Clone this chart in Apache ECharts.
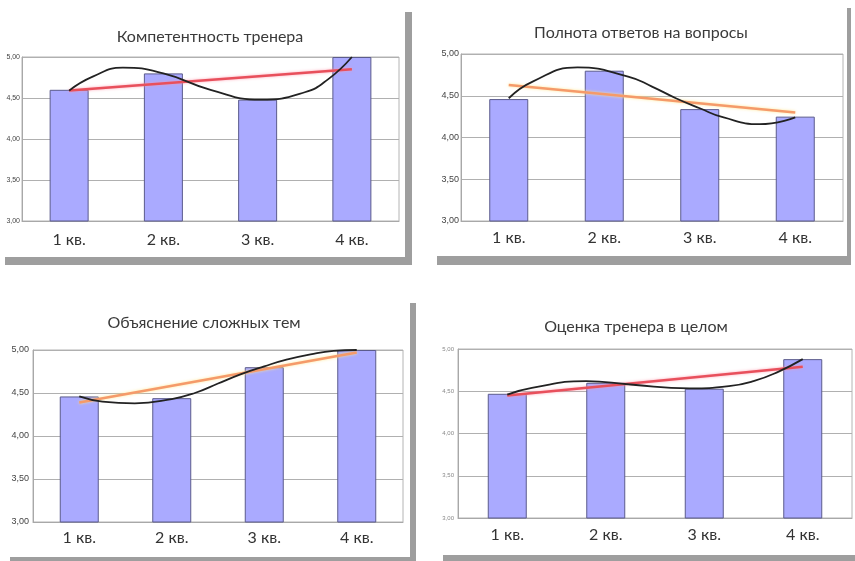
<!DOCTYPE html>
<html>
<head>
<meta charset="utf-8">
<script src="https://cdn.jsdelivr.net/npm/echarts@6/dist/echarts.min.js"></script>
<style>html,body{margin:0;padding:0;background:#fff;}#c{width:855px;height:561px;}</style>
</head>
<body>
<div id="c"></div>
<script>
var categories = ['1 кв.', '2 кв.', '3 кв.', '4 кв.'];
var titles = ['Компетентность тренера', 'Полнота ответов на вопросы', 'Объяснение сложных тем', 'Оценка тренера в целом'];
var bars1 = [4.60, 4.80, 4.48, 5.00];
var bars2 = [4.46, 4.80, 4.34, 4.25];
var bars3 = [4.46, 4.44, 4.80, 5.00];
var bars4 = [4.47, 4.60, 4.53, 4.88];
// black curve (x in category units, 1 = "1 кв.")
var curve1X = [1, 1.25, 1.57, 2, 2.5, 3.03, 3.5, 3.75, 4];
var curve1 = [4.59, 4.76, 4.87, 4.80, 4.60, 4.48, 4.57, 4.73, 5.00];
var curve2X = [1, 1.25, 1.72, 2.25, 2.5, 2.75, 3, 3.25, 3.63, 4];
var curve2 = [4.47, 4.67, 4.84, 4.73, 4.61, 4.47, 4.35, 4.24, 4.16, 4.24];
var curve3X = [1, 1.25, 1.6, 2, 2.25, 2.5, 2.75, 3, 3.25, 3.5, 3.75, 4];
var curve3 = [4.46, 4.40, 4.38, 4.43, 4.50, 4.61, 4.72, 4.81, 4.89, 4.95, 4.99, 5.00];
var curve4X = [1, 1.25, 1.8, 2.25, 2.85, 3.25, 3.5, 3.75, 4];
var curve4 = [4.46, 4.54, 4.62, 4.58, 4.535, 4.56, 4.62, 4.73, 4.88];
// straight trend line
var trendX = [1, 4];
var trend1 = [4.59, 4.85];
var trend2 = [4.63, 4.30];
var trend3 = [4.39, 4.97];
var trend4 = [4.45, 4.79];

var bars = [bars1, bars2, bars3, bars4];
var curvesX = [curve1X, curve2X, curve3X, curve4X];
var curves = [curve1, curve2, curve3, curve4];
var trends = [trend1, trend2, trend3, trend4];

var panels = [
  {grid:{left:22, top:57, width:377, height:164}, title:{x:205, y:32}, ylab:{size:7, color:'#444', margin:2}, xmargin:11, trendColor:'#e8505c', halo:'rgba(255,150,170,0.8)'},
  {grid:{left:461, top:54, width:382, height:167}, title:{x:636, y:28}, ylab:{size:9, color:'#444', margin:2}, xmargin:9, trendColor:'#f59a6a', halo:'rgba(255,230,140,0.9)'},
  {grid:{left:33, top:350, width:370, height:172}, title:{x:199, y:318}, ylab:{size:9, color:'#444', margin:4}, xmargin:8, trendColor:'#f59a6a', halo:'rgba(255,230,140,0.9)'},
  {grid:{left:458, top:349, width:394, height:169}, title:{x:631, y:322}, ylab:{size:6, color:'#888', margin:4}, xmargin:9, trendColor:'#e8505c', halo:'rgba(255,150,170,0.8)'}
];

function pairs(xs, ys) { return xs.map(function (x, i) { return [x, ys[i]]; }); }

var grid = [], xAxis = [], yAxis = [], series = [], title = [];
panels.forEach(function (p, i) {
  grid.push(Object.assign({show:true, borderColor:'#b4b4b4', borderWidth:1, backgroundColor:'#fff'}, p.grid));
  title.push({text: titles[i], left: p.title.x, top: p.title.y, textAlign:'center', textVerticalAlign:'middle',
    textStyle:{fontFamily:'Lato', fontSize:16, fontWeight:'normal', color:'#3a3a3a'}});
  xAxis.push({type:'category', gridIndex:i, data:categories, boundaryGap:true,
    axisLine:{show:true, lineStyle:{color:'#a8a8a8'}}, axisTick:{show:false},
    axisLabel:{fontFamily:'Lato', fontSize:16, color:'#333', margin:p.xmargin}});
  xAxis.push({type:'value', gridIndex:i, min:0.5, max:4.5, show:false});
  yAxis.push({type:'value', gridIndex:i, min:3, max:5, interval:0.5,
    axisLine:{show:true, lineStyle:{color:'#a8a8a8'}}, axisTick:{show:false},
    splitLine:{show:true, lineStyle:{color:'#b0b0b0', width:1}},
    axisLabel:{fontFamily:'Liberation Sans', fontSize:p.ylab.size, color:p.ylab.color, margin:p.ylab.margin,
      formatter:function (v) { return v.toFixed(2).replace('.', ','); }}});
  series.push({type:'bar', xAxisIndex:2*i, yAxisIndex:i, data:bars[i], barWidth:39,
    itemStyle:{color:'#aaaaff', borderColor:'#5b5b8c', borderWidth:1}, silent:true});
  series.push({type:'line', xAxisIndex:2*i+1, yAxisIndex:i, data:pairs(trendX, trends[i]), symbol:'none',
    lineStyle:{color:p.trendColor, width:2.5, shadowColor:p.halo, shadowBlur:3}, silent:true, z:3});
  series.push({type:'line', xAxisIndex:2*i+1, yAxisIndex:i, data:pairs(curvesX[i], curves[i]), symbol:'none',
    smooth:0.5,
    lineStyle:{color:'#222', width:1.8}, silent:true, z:4});
});

var shadow = '#9e9e9e';
var graphic = [
  {type:'rect', shape:{x:405, y:12, width:7, height:253}, style:{fill:shadow}},
  {type:'rect', shape:{x:5, y:257, width:407, height:8}, style:{fill:shadow}},
  {type:'rect', shape:{x:847, y:8, width:4, height:257}, style:{fill:shadow}},
  {type:'rect', shape:{x:437, y:256, width:414, height:9}, style:{fill:shadow}},
  {type:'rect', shape:{x:410, y:303, width:6, height:258}, style:{fill:shadow}},
  {type:'rect', shape:{x:10, y:557, width:406, height:4}, style:{fill:shadow}},
  {type:'rect', shape:{x:443, y:555, width:412, height:6}, style:{fill:shadow}}
];

var chart = echarts.init(document.getElementById('c'), null, {renderer:'canvas'});
chart.setOption({animation:false, backgroundColor:'#fff', title:title, grid:grid, xAxis:xAxis, yAxis:yAxis, series:series, graphic:graphic});
</script>
</body>
</html>
